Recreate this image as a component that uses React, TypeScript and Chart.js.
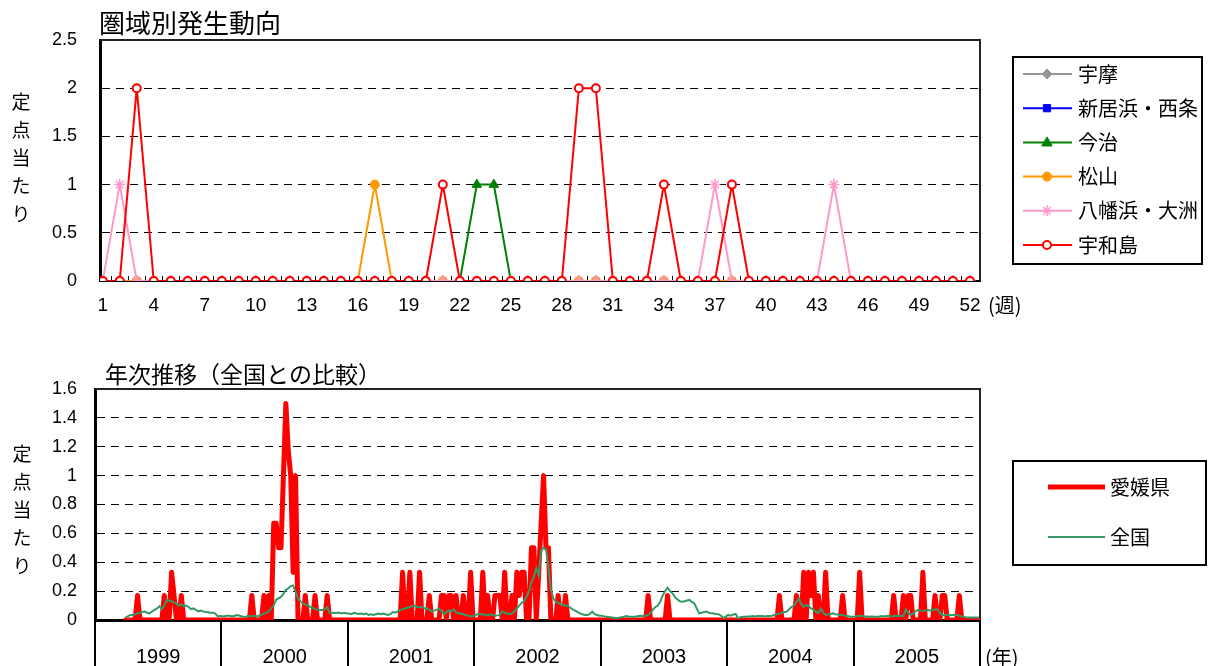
import React, { useEffect, useRef } from 'react';
import { Chart, registerables } from 'chart.js';

Chart.register(...registerables);

const NUM_FONT = "'Liberation Sans', 'Noto Sans CJK JP', sans-serif";
const JP_FONT = "'Noto Sans CJK JP', 'Liberation Sans', sans-serif";

// ---------- Top chart: 圏域別発生動向 ----------
const topTitle = '圏域別発生動向';
const yTitle = '定点当たり';
const weekUnit = '(週)';
const weeks = [
  1, 2, 3, 4, 5, 6, 7, 8, 9, 10, 11, 12, 13,
  14, 15, 16, 17, 18, 19, 20, 21, 22, 23, 24, 25, 26,
  27, 28, 29, 30, 31, 32, 33, 34, 35, 36, 37, 38, 39,
  40, 41, 42, 43, 44, 45, 46, 47, 48, 49, 50, 51, 52,
];
const weekTicks = [1, 4, 7, 10, 13, 16, 19, 22, 25, 28, 31, 34, 37, 40, 43, 46, 49, 52];
const areaNames = ['宇摩', '新居浜・西条', '今治', '松山', '八幡浜・大洲', '宇和島'];

const uma = [
  0, 0, 0, 0, 0, 0, 0, 0, 0, 0, 0, 0, 0,
  0, 0, 0, 0, 0, 0, 0, 0, 0, 0, 0, 0, 0,
  0, 0, 0, 0, 0, 0, 0, 0, 0, 0, 0, 0, 0,
  0, 0, 0, 0, 0, 0, 0, 0, 0, 0, 0, 0, 0,
];
const niihamaSaijo = [
  0, 0, 0, 0, 0, 0, 0, 0, 0, 0, 0, 0, 0,
  0, 0, 0, 0, 0, 0, 0, 0, 0, 0, 0, 0, 0,
  0, 0, 0, 0, 0, 0, 0, 0, 0, 0, 0, 0, 0,
  0, 0, 0, 0, 0, 0, 0, 0, 0, 0, 0, 0, 0,
];
const imabari = [
  0, 0, 0, 0, 0, 0, 0, 0, 0, 0, 0, 0, 0,
  0, 0, 0, 0, 0, 0, 0, 0, 0, 1, 1, 0, 0,
  0, 0, 0, 0, 0, 0, 0, 0, 0, 0, 0, 0, 0,
  0, 0, 0, 0, 0, 0, 0, 0, 0, 0, 0, 0, 0,
];
const matsuyama = [
  0, 0, 0, 0, 0, 0, 0, 0, 0, 0, 0, 0, 0,
  0, 0, 0, 1, 0, 0, 0, 0, 0, 0, 0, 0, 0,
  0, 0, 0, 0, 0, 0, 0, 0, 0, 0, 0, 0, 0,
  0, 0, 0, 0, 0, 0, 0, 0, 0, 0, 0, 0, 0,
];
const yawatahamaOzu = [
  0, 1, 0, 0, 0, 0, 0, 0, 0, 0, 0, 0, 0,
  0, 0, 0, 0, 0, 0, 0, 0, 0, 0, 0, 0, 0,
  0, 0, 0, 0, 0, 0, 0, 0, 0, 0, 1, 0, 0,
  0, 0, 0, 0, 1, 0, 0, 0, 0, 0, 0, 0, 0,
];
const uwajima = [
  0, 0, 2, 0, 0, 0, 0, 0, 0, 0, 0, 0, 0,
  0, 0, 0, 0, 0, 0, 0, 1, 0, 0, 0, 0, 0,
  0, 0, 2, 2, 0, 0, 0, 1, 0, 0, 0, 1, 0,
  0, 0, 0, 0, 0, 0, 0, 0, 0, 0, 0, 0, 0,
];

// ---------- Bottom chart: 年次推移(全国との比較) ----------
const bottomTitle = '年次推移（全国との比較）';
const yearUnit = '(年)';
const years = ['1999', '2000', '2001', '2002', '2003', '2004', '2005'];
const seriesNames = ['愛媛県', '全国'];

const ehime1999 = [
  null, null, null, null, null, null, null, null, null, null, null, null, 0,
  0, 0, 0, 0, 0.17, 0, 0, 0, 0, 0, 0, 0, 0,
  0, 0, 0.17, 0, 0, 0.33, 0.17, 0, 0, 0.17, 0, 0, 0,
  0, 0, 0, 0, 0, 0, 0, 0, 0, 0, 0, 0, 0,
];
const ehime2000 = [
  0, 0, 0, 0, 0, 0, 0, 0, 0, 0, 0, 0, 0.17,
  0, 0, 0, 0, 0.17, 0, 0.17, 0, 0.67, 0.67, 0.5, 0.5, 1,
  1.5, 1.17, 1, 0.33, 1, 0, 0, 0, 0.17, 0, 0, 0, 0.17,
  0, 0, 0, 0, 0.17, 0, 0, 0, 0, 0, 0, 0, 0,
];
const ehime2001 = [
  0, 0, 0, 0, 0, 0, 0, 0, 0, 0, 0, 0, 0,
  0, 0, 0, 0, 0, 0, 0, 0, 0, 0.33, 0, 0, 0.33,
  0, 0, 0, 0.33, 0, 0, 0, 0.17, 0, 0, 0, 0, 0.17,
  0.17, 0, 0.17, 0.17, 0, 0.17, 0, 0, 0.17, 0, 0, 0.33, 0,
];
const ehime2002 = [
  0, 0, 0, 0.33, 0, 0.17, 0, 0, 0.17, 0.17, 0.17, 0, 0.33,
  0, 0, 0.17, 0, 0.33, 0.17, 0.33, 0.33, 0, 0, 0.5, 0.5, 0,
  0.33, 0.67, 1, 0.5, 0.5, 0, 0, 0, 0.17, 0, 0, 0.17, 0,
  0, 0, 0, 0, 0, 0, 0, 0, 0, 0, 0, 0, 0,
];
const ehime2003 = [
  0, 0, 0, 0, 0, 0, 0, 0, 0, 0, 0, 0, 0,
  0, 0, 0, 0, 0, 0, 0.17, 0, 0, 0, 0, 0, 0,
  0, 0.17, 0, 0, 0, 0, 0, 0, 0, 0, 0, 0, 0,
  0, 0, 0, 0, 0, 0, 0, 0, 0, 0, 0, 0, 0,
];
const ehime2004 = [
  0, 0, 0, 0, 0, 0, 0, 0, 0, 0, 0, 0, 0,
  0, 0, 0, 0, 0, 0, 0, 0, 0.17, 0, 0, 0, 0,
  0, 0, 0.17, 0, 0, 0.33, 0, 0.33, 0.17, 0.33, 0, 0.17, 0,
  0, 0.33, 0, 0, 0, 0, 0, 0, 0.17, 0, 0, 0, 0,
];
const ehime2005 = [
  0, 0, 0.33, 0, 0, 0, 0, 0, 0, 0, 0, 0, 0,
  0, 0, 0, 0.17, 0, 0, 0, 0.17, 0, 0.17, 0.17, 0, 0,
  0, 0, 0.33, 0, 0, 0, 0, 0.17, 0, 0, 0.17, 0.17, 0,
  0, 0, 0, 0, 0.17, 0, 0, 0, 0, 0, 0, 0, 0,
];

const national1999 = [
  null, null, null, null, null, null, null, null, null, null, null, null, 0.02,
  0.025, 0.035, 0.035, 0.04, 0.045, 0.05, 0.055, 0.058, 0.05, 0.045, 0.06, 0.07, 0.08,
  0.095, 0.075, 0.1, 0.14, 0.135, 0.13, 0.12, 0.115, 0.1, 0.11, 0.095, 0.1, 0.09,
  0.075, 0.08, 0.07, 0.06, 0.065, 0.06, 0.055, 0.053, 0.05, 0.05, 0.045, 0.025, 0.03,
];
const national2000 = [
  0.025, 0.028, 0.03, 0.03, 0.025, 0.03, 0.035, 0.03, 0.025, 0.02, 0.025, 0.03, 0.025,
  0.03, 0.025, 0.03, 0.035, 0.045, 0.05, 0.06, 0.08, 0.1, 0.14, 0.15, 0.16, 0.18,
  0.21, 0.22, 0.235, 0.24, 0.195, 0.15, 0.13, 0.115, 0.11, 0.1, 0.092, 0.085, 0.075,
  0.072, 0.07, 0.07, 0.075, 0.09, 0.05, 0.05, 0.048, 0.05, 0.05, 0.045, 0.05, 0.045,
];
const national2001 = [
  0.045, 0.04, 0.05, 0.045, 0.042, 0.045, 0.04, 0.045, 0.035, 0.04, 0.035, 0.04, 0.045,
  0.04, 0.045, 0.04, 0.035, 0.04, 0.055, 0.05, 0.06, 0.07, 0.075, 0.08, 0.085, 0.09,
  0.097, 0.1, 0.09, 0.088, 0.09, 0.08, 0.082, 0.07, 0.06, 0.065, 0.07, 0.08, 0.06,
  0.04, 0.055, 0.065, 0.06, 0.074, 0.053, 0.046, 0.045, 0.04, 0.035, 0.03, 0.025, 0.028,
];
const national2002 = [
  0.035, 0.04, 0.042, 0.04, 0.035, 0.032, 0.04, 0.035, 0.03, 0.032, 0.035, 0.06, 0.05,
  0.045, 0.042, 0.045, 0.06, 0.08, 0.1, 0.12, 0.13, 0.16, 0.2, 0.26, 0.3, 0.36,
  0.31, 0.48, 0.5, 0.49, 0.37, 0.21, 0.15, 0.125, 0.12, 0.11, 0.104, 0.1, 0.097,
  0.085, 0.074, 0.065, 0.055, 0.046, 0.04, 0.035, 0.035, 0.04, 0.058, 0.04, 0.035, 0.03,
];
const national2003 = [
  0.03, 0.025, 0.023, 0.02, 0.018, 0.015, 0.012, 0.015, 0.02, 0.022, 0.028, 0.025, 0.023,
  0.023, 0.025, 0.028, 0.03, 0.028, 0.03, 0.035, 0.05, 0.074, 0.09, 0.1, 0.127, 0.17,
  0.2, 0.224, 0.2, 0.185, 0.16, 0.143, 0.13, 0.127, 0.13, 0.135, 0.139, 0.125, 0.115,
  0.08, 0.046, 0.05, 0.055, 0.058, 0.05, 0.046, 0.045, 0.042, 0.04, 0.03, 0.012, 0.025,
];
const national2004 = [
  0.035, 0.03, 0.038, 0.042, 0.012, 0.02, 0.022, 0.023, 0.025, 0.025, 0.028, 0.025, 0.028,
  0.028, 0.028, 0.025, 0.028, 0.028, 0.03, 0.035, 0.04, 0.046, 0.05, 0.055, 0.058, 0.075,
  0.092, 0.1, 0.125, 0.15, 0.11, 0.092, 0.104, 0.097, 0.08, 0.07, 0.058, 0.046, 0.08,
  0.05, 0.035, 0.04, 0.042, 0.046, 0.04, 0.038, 0.035, 0.035, 0.03, 0.028, 0.025, 0.023,
];
const national2005 = [
  0.025, 0.028, 0.03, 0.028, 0.025, 0.025, 0.023, 0.025, 0.023, 0.023, 0.025, 0.028, 0.025,
  0.028, 0.028, 0.025, 0.028, 0.03, 0.028, 0.028, 0.028, 0.074, 0.05, 0.035, 0.045, 0.06,
  0.07, 0.065, 0.062, 0.065, 0.07, 0.065, 0.07, 0.072, 0.074, 0.05, 0.035, 0.035, 0.035,
  0.033, 0.035, 0.035, 0.035, 0.03, 0.025, 0.02, 0.018, 0.018, 0.018, 0.018, 0.018, 0.018,
];

// ---------- styles ----------
const areaStyles = [
  { color: '#969696', fill: '#969696', marker: 'rectRot', radius: 5, bw: 1 },
  { color: '#0000ff', fill: '#0000ff', marker: 'rect', radius: 4.5, bw: 1 },
  { color: '#008000', fill: '#008000', marker: 'triangle', radius: 5.5, bw: 1 },
  { color: '#ff9900', fill: '#ff9900', marker: 'circle', radius: 4.5, bw: 1 },
  { color: '#ff99cc', fill: '#ff99cc', marker: 'star', radius: 5.5, bw: 1.5 },
  { color: '#ff0000', fill: '#ffffff', marker: 'circle', radius: 4, bw: 2 },
];
const RED = '#ff0000';
const SEA = '#339966';

function drawMarker(ctx: CanvasRenderingContext2D, st: any, x: number, y: number) {
  ctx.save();
  ctx.fillStyle = st.fill;
  ctx.strokeStyle = st.color;
  ctx.lineWidth = st.bw;
  const r = st.radius;
  ctx.beginPath();
  if (st.marker === 'rectRot') {
    ctx.moveTo(x, y - r);
    ctx.lineTo(x + r, y);
    ctx.lineTo(x, y + r);
    ctx.lineTo(x - r, y);
    ctx.closePath();
    ctx.fill();
    ctx.stroke();
  } else if (st.marker === 'rect') {
    ctx.rect(x - r * 0.8, y - r * 0.8, r * 1.6, r * 1.6);
    ctx.fill();
    ctx.stroke();
  } else if (st.marker === 'triangle') {
    ctx.moveTo(x, y - r);
    ctx.lineTo(x + r * 0.95, y + r * 0.65);
    ctx.lineTo(x - r * 0.95, y + r * 0.65);
    ctx.closePath();
    ctx.fill();
    ctx.stroke();
  } else if (st.marker === 'star') {
    for (let k = 0; k < 4; k++) {
      const a = (Math.PI / 4) * k;
      ctx.moveTo(x - Math.cos(a) * r, y - Math.sin(a) * r);
      ctx.lineTo(x + Math.cos(a) * r, y + Math.sin(a) * r);
    }
    ctx.stroke();
  } else {
    ctx.arc(x, y, r, 0, Math.PI * 2);
    ctx.fill();
    ctx.stroke();
  }
  ctx.restore();
}

function drawStackedTitle(ctx: CanvasRenderingContext2D, text: string, x: number, y0: number) {
  ctx.save();
  ctx.font = `19px ${JP_FONT}`;
  ctx.fillStyle = '#000';
  ctx.textAlign = 'center';
  ctx.textBaseline = 'middle';
  Array.from(text).forEach((ch, k) => ctx.fillText(ch, x, y0 + k * 28));
  ctx.restore();
}

function frame(ctx: CanvasRenderingContext2D, a: any) {
  ctx.save();
  ctx.strokeStyle = '#222';
  ctx.lineWidth = 2;
  ctx.beginPath();
  ctx.moveTo(a.left, a.top);
  ctx.lineTo(a.right, a.top);
  ctx.lineTo(a.right, a.bottom);
  ctx.stroke();
  ctx.restore();
}

const gridColor = (max: number) => (c: any) =>
  c.tick && c.tick.value > 1e-6 && c.tick.value < max - 1e-6 ? '#000' : 'rgba(0,0,0,0)';

const fmtTick = (v: any) => String(Math.round(Number(v) * 10) / 10);

export default function App() {
  const topRef = useRef<HTMLCanvasElement>(null);
  const botRef = useRef<HTMLCanvasElement>(null);

  useEffect(() => {
    const areaData = [uma, niihamaSaijo, imabari, matsuyama, yawatahamaOzu, uwajima];
    const topPlugin = {
      id: 'topDecor',
      beforeDatasetsDraw(chart: any) {
        const { ctx, chartArea: a, scales } = chart;
        frame(ctx, a);
        ctx.save();
        ctx.strokeStyle = '#000';
        ctx.lineWidth = 1;
        ctx.beginPath();
        weeks.slice(0, -1).forEach((w) => {
          const px = Math.round(scales.x.getPixelForValue(w + 0.5)) + 0.5;
          ctx.moveTo(px, a.bottom);
          ctx.lineTo(px, a.bottom - 5);
        });
        ctx.stroke();
        ctx.restore();
      },
      afterDraw(chart: any) {
        const { ctx, chartArea: a } = chart;
        ctx.save();
        ctx.fillStyle = '#000';
        ctx.font = `26px ${JP_FONT}`;
        ctx.textBaseline = 'middle';
        ctx.textAlign = 'left';
        ctx.fillText(topTitle, a.left - 1, 23);
        ctx.font = `20px ${JP_FONT}`;
        ctx.fillText(weekUnit, a.right + 8, 305);
        ctx.restore();
        drawStackedTitle(ctx, yTitle, 21, 101.5);
        // legend
        ctx.save();
        ctx.strokeStyle = '#000';
        ctx.lineWidth = 2;
        ctx.strokeRect(1013, 57, 189, 207);
        areaNames.forEach((name, k) => {
          const st = areaStyles[k];
          const y = 74 + k * 34.2;
          ctx.strokeStyle = st.color;
          ctx.lineWidth = 2;
          ctx.beginPath();
          ctx.moveTo(1023, y);
          ctx.lineTo(1072, y);
          ctx.stroke();
          drawMarker(ctx, st, 1047, y);
          ctx.fillStyle = '#000';
          ctx.font = `20px ${JP_FONT}`;
          ctx.textBaseline = 'middle';
          ctx.fillText(name, 1078, y);
        });
        ctx.restore();
      },
    };

    const topChart = new Chart(topRef.current!, {
      type: 'line',
      data: {
        datasets: areaNames.map((name, k) => {
          const st = areaStyles[k];
          return {
            label: name,
            data: weeks.map((w, i) => ({ x: w, y: areaData[k][i] })),
            borderColor: st.color,
            backgroundColor: st.fill,
            borderWidth: 2,
            pointStyle: st.marker as any,
            pointRadius: st.radius,
            pointBorderWidth: st.bw,
            pointBackgroundColor: st.fill,
            pointBorderColor: st.color,
            tension: 0,
            order: areaNames.length - k,
          };
        }),
      },
      options: {
        responsive: false,
        animation: false,
        events: [],
        layout: { padding: { top: 40, right: 228, left: 0, bottom: 0 } },
        plugins: { legend: { display: false }, tooltip: { enabled: false } },
        scales: {
          x: {
            type: 'linear',
            min: 0.84,
            max: 52.59,
            afterBuildTicks: (s: any) => {
              s.ticks = weekTicks.map((v) => ({ value: v }));
            },
            afterFit: (s: any) => {
              s.height = 54;
            },
            ticks: {
              color: '#000',
              font: { size: 19, family: NUM_FONT },
              padding: 13,
              autoSkip: false,
              maxRotation: 0,
            },
            grid: { display: false, drawTicks: false },
            border: { display: true, color: '#000', width: 2 },
          },
          y: {
            min: 0,
            max: 2.5,
            ticks: {
              stepSize: 0.5,
              color: '#000',
              font: { size: 18, family: NUM_FONT },
              padding: 23,
              callback: fmtTick,
            },
            afterFit: (s: any) => {
              s.width = 100;
            },
            grid: { color: gridColor(2.5), drawTicks: false, lineWidth: 1 },
            border: { display: true, color: '#000', width: 3, dash: [8, 6] },
          },
        },
      } as any,
      plugins: [topPlugin],
    });

    const ehimeAll = [
      ...ehime1999, ...ehime2000, ...ehime2001, ...ehime2002, ...ehime2003, ...ehime2004, ...ehime2005,
    ];
    const nationalAll = [
      ...national1999, ...national2000, ...national2001, ...national2002, ...national2003, ...national2004,
      ...national2005,
    ];
    const perYear = weeks.length;
    const totalWeeks = perYear * years.length;

    const botPlugin = {
      id: 'botDecor',
      beforeDatasetsDraw(chart: any) {
        frame(chart.ctx, chart.chartArea);
      },
      afterDraw(chart: any) {
        const { ctx, chartArea: a, scales } = chart;
        ctx.save();
        ctx.fillStyle = '#000';
        ctx.font = `23px ${JP_FONT}`;
        ctx.textBaseline = 'middle';
        ctx.textAlign = 'left';
        ctx.fillText(bottomTitle, 105, 39);
        ctx.font = `20px ${NUM_FONT}`;
        ctx.textAlign = 'center';
        years.forEach((yr, k) => {
          ctx.fillText(yr, scales.x.getPixelForValue(k * perYear + perYear / 2), a.bottom + 37);
        });
        ctx.textAlign = 'left';
        ctx.font = `20px ${JP_FONT}`;
        ctx.fillText(yearUnit, a.right + 5, a.bottom + 37);
        ctx.restore();
        drawStackedTitle(ctx, yTitle, 22, 118.5);
        // legend
        ctx.save();
        ctx.strokeStyle = '#000';
        ctx.lineWidth = 2;
        ctx.strokeRect(1013, 126, 193, 104);
        const items = [
          { name: seriesNames[0], color: RED, w: 5, y: 152 },
          { name: seriesNames[1], color: SEA, w: 2, y: 202 },
        ];
        items.forEach((it) => {
          ctx.strokeStyle = it.color;
          ctx.lineWidth = it.w;
          ctx.beginPath();
          ctx.moveTo(1048, it.y);
          ctx.lineTo(1105, it.y);
          ctx.stroke();
          ctx.fillStyle = '#000';
          ctx.font = `20px ${JP_FONT}`;
          ctx.textBaseline = 'middle';
          ctx.fillText(it.name, 1110, it.y);
        });
        ctx.restore();
      },
    };

    const botChart = new Chart(botRef.current!, {
      type: 'line',
      data: {
        datasets: [
          {
            label: seriesNames[0],
            data: ehimeAll.map((v, i) => ({ x: i + 0.5, y: v })),
            borderColor: RED,
            borderWidth: 5,
            borderJoinStyle: 'round',
            borderCapStyle: 'round',
            pointRadius: 0,
            tension: 0,
            order: 2,
          },
          {
            label: seriesNames[1],
            data: nationalAll.map((v, i) => ({ x: i + 0.5, y: v })),
            borderColor: SEA,
            borderWidth: 2,
            pointRadius: 0,
            tension: 0,
            order: 1,
          },
        ],
      },
      options: {
        responsive: false,
        animation: false,
        events: [],
        layout: { padding: { top: 54, right: 228, left: 0, bottom: 0 } },
        plugins: { legend: { display: false }, tooltip: { enabled: false } },
        scales: {
          x: {
            type: 'linear',
            min: 0,
            max: totalWeeks,
            afterBuildTicks: (s: any) => {
              s.ticks = [...years.map((_, k) => ({ value: k * perYear })), { value: totalWeeks }];
            },
            afterFit: (s: any) => {
              s.height = 46;
            },
            ticks: { display: false },
            grid: {
              display: true,
              drawOnChartArea: false,
              drawTicks: true,
              tickLength: 46,
              color: '#000',
              lineWidth: 2,
            },
            border: { display: true, color: '#000', width: 3 },
          },
          y: {
            min: 0,
            max: 1.6,
            ticks: {
              stepSize: 0.2,
              color: '#000',
              font: { size: 18, family: NUM_FONT },
              padding: 18,
              callback: fmtTick,
            },
            afterFit: (s: any) => {
              s.width = 95;
            },
            grid: { color: gridColor(1.6), drawTicks: false, lineWidth: 1 },
            border: { display: true, color: '#000', width: 3, dash: [8, 6] },
          },
        },
      } as any,
      plugins: [botPlugin],
    });

    return () => {
      topChart.destroy();
      botChart.destroy();
    };
  }, []);

  return (
    <div style={{ position: 'fixed', left: 0, top: 0, width: 1208, height: 666, background: '#fff', overflow: 'hidden' }}>
      <canvas ref={topRef} width={1208} height={335} style={{ position: 'absolute', left: 0, top: 0 }} />
      <canvas ref={botRef} width={1208} height={331} style={{ position: 'absolute', left: 0, top: 335 }} />
    </div>
  );
}
